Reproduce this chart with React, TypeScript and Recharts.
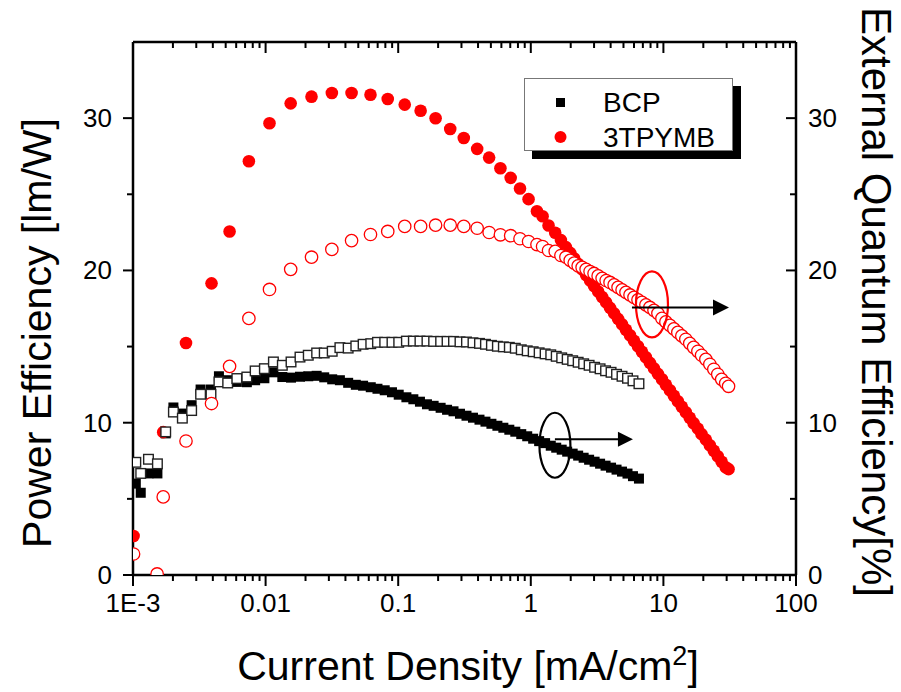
import { ScatterChart, Scatter, XAxis, YAxis, ReferenceDot } from 'recharts'

const FONT = 'Arial, "Liberation Sans", sans-serif'

// current density [mA/cm2], one set for both 3TPYMB curves
const tpymbJ = [
  0.00101, 0.00152, 0.00169, 0.00251, 0.00391, 0.00535, 0.00748, 0.0107, 0.01546, 0.0222,
  0.0316, 0.0445, 0.0618, 0.0834, 0.112, 0.1476, 0.1914, 0.2468, 0.3123, 0.3939,
  0.485, 0.59, 0.705, 0.829, 0.962, 1.113, 1.227, 1.361, 1.528, 1.687,
  1.84, 1.982, 2.124, 2.276, 2.438, 2.612, 2.799, 2.999, 3.22, 3.45,
  3.7, 3.96, 4.25, 4.55, 4.88, 5.22, 5.6, 6.0, 6.43, 6.89,
  7.38, 7.91, 8.49, 9.09, 9.75, 10.44, 11.2, 12.0, 12.85, 13.77,
  14.76, 15.8, 16.9, 18.2, 19.4, 20.9, 22.4, 24.0, 25.7, 27.5,
  29.5, 31.0,
]
// power efficiency [lm/W] (filled circles)
const tpymbPE = [
  2.56, null, 9.38, 15.23, 19.15, 22.56, 27.17, 29.66, 30.97, 31.41,
  31.65, 31.65, 31.54, 31.26, 30.89, 30.49, 29.99, 29.29, 28.7, 27.98,
  27.41, 26.71, 26.08, 25.38, 24.68, 23.89, 23.56, 22.95, 22.47, 21.99,
  21.53, 21.15, 20.79, 20.43, 20.07, 19.7, 19.34, 18.98, 18.62, 18.26,
  17.9, 17.54, 17.18, 16.82, 16.46, 16.1, 15.74, 15.38, 15.02, 14.66,
  14.3, 13.93, 13.57, 13.21, 12.85, 12.49, 12.13, 11.77, 11.41, 11.05,
  10.69, 10.33, 9.97, 9.61, 9.25, 8.89, 8.52, 8.16, 7.8, 7.44,
  7.08, 6.95,
]
// external quantum efficiency [%] (open circles)
const tpymbEQE = [
  1.38, 0.07, 5.13, 8.8, 11.26, 13.7, 16.85, 18.75, 20.07, 20.87,
  21.38, 21.96, 22.36, 22.56, 22.89, 22.89, 22.97, 22.97, 22.89, 22.77,
  22.49, 22.34, 22.28, 22.08, 21.9, 21.7, 21.57, 21.31, 21.25, 20.98,
  20.87, 20.66, 20.48, 20.3, 20.2, 20.07, 19.93, 19.8, 19.64, 19.48,
  19.34, 19.21, 19.05, 18.89, 18.72, 18.56, 18.39, 18.23, 18.07, 17.9,
  17.74, 17.57, 17.38, 17.18, 16.85, 16.62, 16.39, 16.16, 15.93, 15.7,
  15.48, 15.21, 14.95, 14.69, 14.43, 14.16, 13.84, 13.51, 13.18, 12.85,
  12.59, 12.39,
]

const bcpJ = [
  0.00105, 0.001144, 0.001308, 0.001528, 0.001765, 0.002017, 0.002356, 0.002768, 0.003234, 0.003873,
  0.004446, 0.005176, 0.00607, 0.00722, 0.00834, 0.00979, 0.01145, 0.01337, 0.01555, 0.01817,
  0.02098, 0.02426, 0.02768, 0.03179, 0.03633, 0.04194, 0.04789, 0.05436, 0.0621, 0.06977,
  0.07912, 0.08977, 0.1009, 0.1153, 0.1301, 0.1459, 0.1648, 0.185, 0.2089, 0.2336,
  0.2613, 0.2924, 0.3273, 0.3664, 0.4102, 0.455, 0.5047, 0.5598, 0.6209, 0.6887,
  0.7639, 0.8473, 0.9398, 1.042, 1.156, 1.282, 1.414, 1.555, 1.71, 1.881,
  2.069, 2.276, 2.503, 2.753, 3.028, 3.331, 3.663, 4.029, 4.432, 4.874,
  5.361, 5.896, 6.541,
]
const bcpPE = [
  6.0, 5.4, 6.67, 6.67, 9.3, 11.0, 10.6, 11.15, 12.18, 12.18,
  13.05, 12.79, 12.68, 12.66, 12.79, 12.92, 13.31, 13.0, 12.96, 13.02,
  13.05, 13.08, 12.98, 12.85, 12.79, 12.62, 12.49, 12.43, 12.33, 12.23,
  12.13, 12.0, 11.84, 11.67, 11.54, 11.38, 11.21, 11.11, 10.98, 10.85,
  10.75, 10.59, 10.46, 10.33, 10.2, 10.07, 9.93, 9.8, 9.67, 9.54,
  9.41, 9.25, 9.11, 8.95, 8.79, 8.66, 8.49, 8.36, 8.23, 8.1,
  7.97, 7.84, 7.7, 7.57, 7.44, 7.31, 7.18, 7.05, 6.92, 6.79,
  6.66, 6.49, 6.33,
]
const bcpEQE = [
  7.4, 6.67, 7.6, 7.3, 9.4, 10.7, 10.3, 10.8, 11.87, 11.87,
  12.68, 12.61, 12.9, 13.0, 13.4, 13.55, 13.99, 13.77, 13.99, 14.31,
  14.43, 14.58, 14.58, 14.69, 14.93, 14.9, 15.04, 15.15, 15.19, 15.28,
  15.28, 15.28, 15.28, 15.36, 15.36, 15.36, 15.36, 15.34, 15.34, 15.34,
  15.34, 15.31, 15.3, 15.25, 15.21, 15.15, 15.08, 15.02, 14.98, 14.95,
  14.89, 14.79, 14.72, 14.66, 14.59, 14.52, 14.46, 14.36, 14.26, 14.16,
  14.07, 13.97, 13.87, 13.77, 13.64, 13.54, 13.41, 13.31, 13.18, 13.05,
  12.92, 12.75, 12.56,
]

const xMajorTicks = [0.001, 0.01, 0.1, 1, 10, 100]
const xTickLabels = ['1E-3', '0.01', '0.1', '1', '10', '100']
const yTicks = [0, 5, 10, 15, 20, 25, 30]
const yTickLabels = ['0', '', '10', '', '20', '', '30']
const legendNames = ['BCP', '3TPYMB']

const xTicks = xMajorTicks.flatMap((d, i) =>
  i < xMajorTicks.length - 1 ? [d, 2 * d, 3 * d, 4 * d, 5 * d, 6 * d, 7 * d, 8 * d, 9 * d] : [d]
)

const toPoints = (xs: number[], ys: (number | null)[]) =>
  xs.map((x, i) => ({ x, y: ys[i] })).filter((p) => p.y !== null)

const axisLine = { stroke: '#000', strokeWidth: 2.5 }

const BottomTick = ({ x, y, payload }: any) => {
  const i = xMajorTicks.indexOf(payload.value)
  return (
    <g>
      <line x1={x} x2={x} y1={y} y2={y + (i >= 0 ? 11 : 6)} stroke="#000" strokeWidth={2} />
      {i >= 0 && (
        <text x={x} y={y + 37} textAnchor="middle" fontSize={26} fontFamily={FONT} fill="#000">
          {xTickLabels[i]}
        </text>
      )}
    </g>
  )
}

const TopTick = ({ x, y, payload }: any) => {
  const major = xMajorTicks.indexOf(payload.value) >= 0
  return <line x1={x} x2={x} y1={y} y2={y + (major ? 11 : 6)} stroke="#000" strokeWidth={2} />
}

const LeftTick = ({ x, y, payload }: any) => {
  const label = yTickLabels[yTicks.indexOf(payload.value)]
  return (
    <g>
      <line x1={x} x2={x - (label ? 10 : 6)} y1={y} y2={y} stroke="#000" strokeWidth={2} />
      {label && (
        <text x={x - 21} y={y + 9} textAnchor="end" fontSize={26} fontFamily={FONT} fill="#000">
          {label}
        </text>
      )}
    </g>
  )
}

const RightTick = ({ x, y, payload }: any) => {
  const label = yTickLabels[yTicks.indexOf(payload.value)]
  return (
    <g>
      <line x1={x} x2={x - (label ? 10 : 6)} y1={y} y2={y} stroke="#000" strokeWidth={2} />
      {label && (
        <text x={x + 12} y={y + 9} textAnchor="start" fontSize={26} fontFamily={FONT} fill="#000">
          {label}
        </text>
      )}
    </g>
  )
}

const XTitle = () => (
  <text x={468} y={680} textAnchor="middle" fontSize={41} fontFamily={FONT} fill="#000">
    Current Density [mA/cm
    <tspan dy={-15} fontSize={27}>2</tspan>
    <tspan dy={15}>]</tspan>
  </text>
)

const LeftTitle = () => (
  <text x={51} y={333} transform="rotate(-90, 51, 333)" textAnchor="middle" fontSize={41} fontFamily={FONT} fill="#000">
    Power Efficiency [lm/W]
  </text>
)

const RightTitle = () => (
  <text x={862} y={302} transform="rotate(90, 862, 302)" textAnchor="middle" fontSize={42} fontFamily={FONT} fill="#000">
    External Quantum Efficiency[%]
  </text>
)

const FilledSquare = ({ cx, cy }: any) => <rect x={cx - 5} y={cy - 5} width={10} height={10} fill="#000" />
const OpenSquare = ({ cx, cy }: any) => (
  <rect x={cx - 4.8} y={cy - 4.8} width={9.6} height={9.6} fill="#fff" stroke="#222" strokeWidth={1.4} />
)
const FilledCircle = ({ cx, cy }: any) => <circle cx={cx} cy={cy} r={6.3} fill="#ff0000" />
const OpenCircle = ({ cx, cy }: any) => (
  <circle cx={cx} cy={cy} r={6.2} fill="#fff" stroke="#ff0000" strokeWidth={1.3} />
)

const BlackMark = ({ cx, cy }: any) => (
  <g>
    <ellipse cx={cx} cy={cy} rx={15.5} ry={32.5} fill="none" stroke="#000" strokeWidth={2.2} />
    <line x1={cx} y1={cy - 6} x2={cx + 64} y2={cy - 6} stroke="#000" strokeWidth={2} />
    <polygon points={`${cx + 78},${cy - 6} ${cx + 63},${cy - 13.5} ${cx + 63},${cy + 1.5}`} fill="#000" />
  </g>
)

const RedMark = ({ cx, cy }: any) => (
  <g>
    <ellipse cx={cx} cy={cy} rx={16} ry={33} fill="none" stroke="#ff0000" strokeWidth={2.2} />
    <line x1={cx - 20} y1={cy + 3} x2={cx + 63} y2={cy + 3} stroke="#000" strokeWidth={2} />
    <polygon points={`${cx + 77},${cy + 3} ${cx + 61},${cy - 5} ${cx + 61},${cy + 11}`} fill="#000" />
  </g>
)

function LegendBox() {
  return (
    <div
      style={{
        position: 'absolute',
        left: 524,
        top: 78,
        width: 209,
        height: 73,
        boxSizing: 'border-box',
        border: '1px solid #777',
        background: '#fff',
        boxShadow: '8px 8px 0 #000',
      }}
    >
      <svg width={207} height={71} style={{ display: 'block', overflow: 'visible' }}>
        <rect x={31} y={19} width={9} height={9} fill="#000" />
        <circle cx={35.5} cy={58} r={6} fill="#ff0000" />
        <text x={78} y={33} fontSize={28} fontFamily={FONT} fill="#000">{legendNames[0]}</text>
        <text x={78} y={68} fontSize={28} fontFamily={FONT} fill="#000">{legendNames[1]}</text>
      </svg>
    </div>
  )
}

export default function App() {
  return (
    <div style={{ position: 'absolute', left: 0, top: 0, width: 901, height: 692, background: '#fff' }}>
      <ScatterChart width={901} height={692} margin={{ top: 0, right: 0, bottom: 0, left: 0 }}>
        <XAxis
          dataKey="x"
          type="number"
          scale="log"
          domain={[0.001, 100]}
          ticks={xTicks}
          interval={0}
          allowDataOverflow
          height={117}
          tickSize={0}
          tickMargin={0}
          tickLine={false}
          tick={BottomTick}
          axisLine={axisLine}
          label={{ content: XTitle }}
        />
        <XAxis
          xAxisId="top"
          orientation="top"
          dataKey="x"
          type="number"
          scale="log"
          domain={[0.001, 100]}
          ticks={xTicks}
          interval={0}
          allowDataOverflow
          height={42}
          tickSize={0}
          tickMargin={0}
          tickLine={false}
          tick={TopTick}
          axisLine={axisLine}
        />
        <YAxis
          yAxisId="left"
          dataKey="y"
          type="number"
          domain={[0, 35]}
          ticks={yTicks}
          interval={0}
          allowDataOverflow
          width={133}
          tickSize={0}
          tickMargin={0}
          tickLine={false}
          tick={LeftTick}
          axisLine={axisLine}
          label={{ content: LeftTitle }}
        />
        <YAxis
          yAxisId="right"
          orientation="right"
          dataKey="y"
          type="number"
          domain={[0, 35]}
          ticks={yTicks}
          interval={0}
          allowDataOverflow
          width={105}
          tickSize={0}
          tickMargin={0}
          tickLine={false}
          tick={RightTick}
          axisLine={axisLine}
          label={{ content: RightTitle }}
        />
        <Scatter yAxisId="right" data={toPoints(bcpJ, bcpPE)} shape={FilledSquare} isAnimationActive={false} />
        <Scatter yAxisId="left" data={toPoints(tpymbJ, tpymbPE)} shape={FilledCircle} isAnimationActive={false} />
        <Scatter yAxisId="left" data={toPoints(bcpJ, bcpEQE)} shape={OpenSquare} isAnimationActive={false} />
        <Scatter yAxisId="right" data={toPoints(tpymbJ, tpymbEQE)} shape={OpenCircle} isAnimationActive={false} />
        <ReferenceDot yAxisId="right" x={1.52} y={8.52} shape={BlackMark} />
        <ReferenceDot yAxisId="right" x={8.2} y={17.77} shape={RedMark} />
      </ScatterChart>
      <LegendBox />
    </div>
  )
}
